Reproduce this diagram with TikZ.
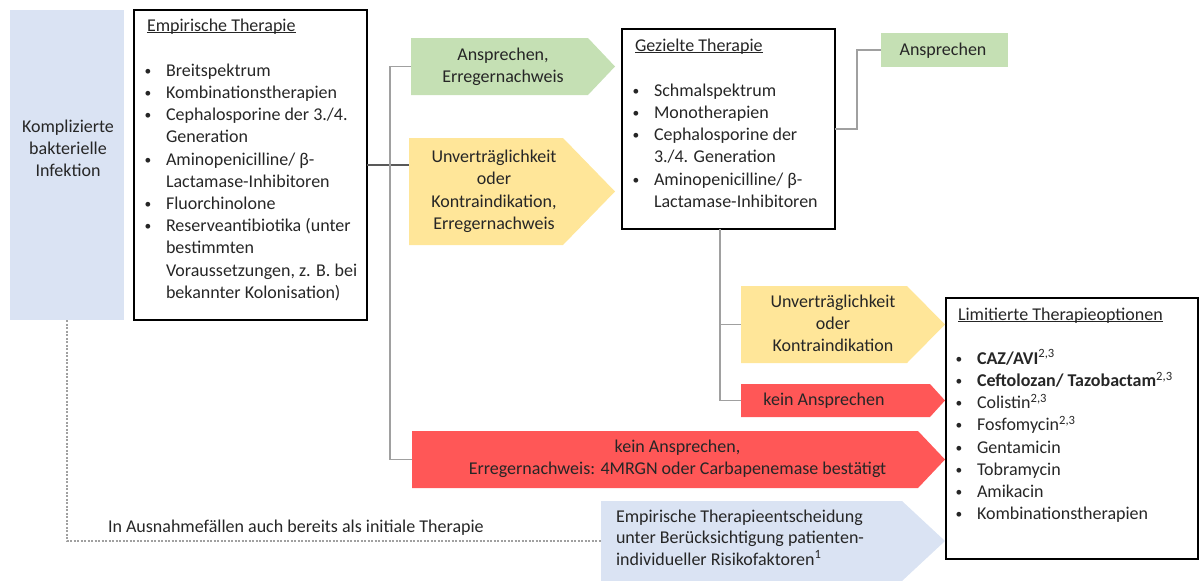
\documentclass[tikz,border=0pt]{standalone}
\usepackage{fontspec}
\setmainfont{Carlito}
\definecolor{boxblue}{HTML}{DAE3F3}
\definecolor{okgreen}{HTML}{C5E0B4}
\definecolor{warnyellow}{HTML}{FFE699}
\definecolor{alertred}{HTML}{FF5757}
\definecolor{ink}{HTML}{262626}
\definecolor{linkgray}{HTML}{A0A0A0}
\definecolor{linkdark}{HTML}{595959}

% body font: Calibri metrics, 18pt on 22.2pt
\newcommand\fs{\fontsize{18}{22.2}\selectfont}
\newcommand\bu{\makebox[19pt][l]{\hspace{-2.5pt}\raisebox{1pt}{\scalebox{0.75}{•}}}}
\newcommand\ind{\hspace*{19pt}}
\newcommand\ttl[1]{\underline{\smash{#1}}}

% pentagon arrow: name, x, y, width of body, height, tip length, colour
\newcommand\pentagon[7]{%
  \node[shapebox, minimum width=#4, minimum height=#5, anchor=north west] (#1) at (#2,#3) {};
  \fill[#7] (#1.north west) -- (#1.north east) -- ++(#6,#5/2) -- (#1.south east) -- (#1.south west) -- cycle;}

\tikzset{
  shapebox/.style={shape=rectangle, inner sep=0, outer sep=0},
  framebox/.style={shapebox, draw=black, line width=1.8pt},
  txt/.style={inner sep=0, outer sep=0, text=ink, font=\fs, anchor=base},
  link/.style={draw=linkgray, line width=1.3pt},
  linkstrong/.style={draw=linkdark, line width=1.1pt},
  dashlink/.style={draw=linkgray, line width=1.1pt, dash pattern=on 2pt off 1.5pt},
}

\begin{document}
\begin{tikzpicture}[x=1pt, y=-1pt]
\useasboundingbox (0,0) rectangle (1200,581);

% starting point
\node[shapebox, fill=boxblue, minimum width=114, minimum height=310, anchor=north west] (kbi) at (10,10) {};
\node[txt] (kbitext) at (68,132) {\parbox[t]{110pt}{\centering Komplizierte\\bakterielle\\Infektion}};

% empirical therapy
\node[framebox, minimum width=233, minimum height=310, anchor=north west] (emp) at (134,10) {};
\node[txt, anchor=base west] (emptext) at (147,31) {\parbox[t]{220pt}{\raggedright
  \ttl{Empirische Therapie}\\[23pt]
  \bu Breitspektrum\\
  \bu Kombinationstherapien\\
  \bu Cephalosporine der 3./4.\\
  \ind Generation\\
  \bu Aminopenicilline/ β-\\
  \ind Lactamase-Inhibitoren\\
  \bu Fluorchinolone\\
  \bu Reserveantibiotika (unter\\
  \ind bestimmten\\
  \ind Voraussetzungen, z. B. bei\\
  \ind bekannter Kolonisation)}};

% targeted therapy
\node[framebox, minimum width=213, minimum height=200, anchor=north west] (gez) at (622,29) {};
\node[txt, anchor=base west] (geztext) at (635,51) {\parbox[t]{200pt}{\raggedright
  \ttl{Gezielte Therapie}\\[23pt]
  \bu Schmalspektrum\\
  \bu Monotherapien\\
  \bu Cephalosporine der\\
  \ind 3./4. Generation\\
  \bu Aminopenicilline/ β-\\
  \ind Lactamase-Inhibitoren}};

% limited options
\node[framebox, minimum width=252, minimum height=261, anchor=north west] (lim) at (946,298) {};
\node[txt, anchor=base west] (limtext) at (958,320) {\parbox[t]{240pt}{\raggedright
  \ttl{Limitierte Therapieoptionen}\\[22pt]
  \bu \textbf{CAZ/AVI}\textsuperscript{2,3}\\
  \bu \textbf{Ceftolozan/ Tazobactam}\textsuperscript{2,3}\\
  \bu Colistin\textsuperscript{2,3}\\
  \bu Fosfomycin\textsuperscript{2,3}\\
  \bu Gentamicin\\
  \bu Tobramycin\\
  \bu Amikacin\\
  \bu Kombinationstherapien}};

% decision arrows
\pentagon{ans1}{411}{38}{177}{57}{27}{okgreen}
\node[txt] (ans1text) at (503,60) {\parbox[t]{200pt}{\centering Ansprechen,\\Erregernachweis}};

\pentagon{yel1}{409}{138}{154}{107}{52}{warnyellow}
\node[txt] (yel1text) at (494,162.7) {\parbox[t]{200pt}{\centering Unverträglichkeit\\oder\\Kontraindikation,\\Erregernachweis}};

\pentagon{yel2}{741}{286}{166}{77}{38}{warnyellow}
\node[txt] (yel2text) at (833,307.3) {\parbox[t]{200pt}{\centering Unverträglichkeit\\oder\\Kontraindikation}};

\pentagon{red1}{741}{384}{189}{33}{15}{alertred}
\node[txt] (red1text) at (824,405.7) {kein Ansprechen};

\pentagon{red2}{412}{431}{506}{57}{27}{alertred}
\node[txt] (red2text) at (677.5,452.7) {\parbox[t]{500pt}{\centering kein Ansprechen,\\Erregernachweis: 4MRGN oder Carbapenemase bestätigt}};

\pentagon{blue}{601}{501}{301}{80}{43}{boxblue}
\node[txt, anchor=base west] (bluetext) at (616,522) {\parbox[t]{300pt}{\fontsize{18}{21.6}\selectfont\raggedright
  Empirische Therapieentscheidung\\
  unter Berücksichtigung patienten-\\
  individueller Risikofaktoren\textsuperscript{1}}};

\node[shapebox, fill=okgreen, minimum width=127, minimum height=34, anchor=north west] (ans2) at (881,33) {};
\node[txt] (ans2text) at (943,55.7) {Ansprechen};

% connectors
\draw[linkstrong] (emp.east) -- (emp.east -| yel1.west);
\draw[link] (ans1.west) -- ++(-21,0) |- (red2.west);
\draw[link] (gez.east) -- ++(22,0) |- (ans2.west);
\coordinate (gzfoot) at (720,229);
\draw[link] (gzfoot) |- (red1.west);
\draw[link] (gzfoot |- yel2.west) -- (yel2.west);
\draw[dashlink] (kbi.south) |- (blue.west);

\node[txt, anchor=base west] (exception) at (108,532) {In Ausnahmefällen auch bereits als initiale Therapie};
\end{tikzpicture}
\end{document}
